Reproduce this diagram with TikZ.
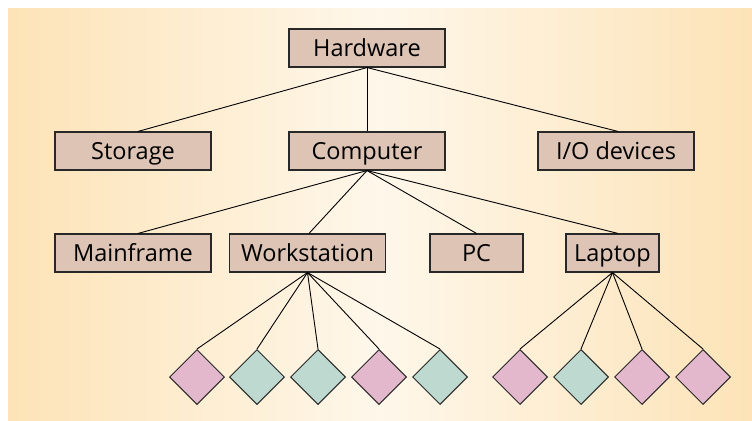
\documentclass[tikz,border=0pt]{standalone}
\usepackage{fontspec}
\setmainfont{Open Sans}
\usetikzlibrary{shapes.geometric}
\definecolor{bgedge}{RGB}{253,227,183}
\definecolor{bgmid}{RGB}{254,247,234}
\definecolor{boxfill}{RGB}{221,196,180}
\definecolor{pinkd}{RGB}{228,184,204}
\definecolor{teald}{RGB}{190,218,208}
\definecolor{edgec}{RGB}{40,40,40}
\tikzset{
  box/.style={draw=edgec, line width=1.1bp, fill=boxfill, minimum height=38bp, inner sep=0pt, text height=16.5bp, text depth=0.5bp, font=\fontsize{23.5bp}{26bp}\selectfont},
  wbox/.style={box, minimum width=156bp},
  nbox/.style={box, minimum width=93bp},
  dia/.style={diamond, draw=edgec, line width=1bp, minimum width=55bp, minimum height=55bp, inner sep=0pt},
  pk/.style={dia, fill=pinkd},
  tl/.style={dia, fill=teald},
  link/.style={draw=black, line width=0.9bp}
}
\begin{document}
\begin{tikzpicture}[x=1bp,y=1bp]
\useasboundingbox (0,0) rectangle (752,420);
\shade[left color=bgedge, right color=bgedge, middle color=bgmid] (8,0) rectangle (752,411);
% level 0
\node[wbox] (hw) at (367,372) {Hardware};
% level 1
\node[wbox] (st) at (133,269) {Storage};
\node[wbox] (cp) at (367,269) {Computer};
\node[wbox] (io) at (616,269) {I/O devices};
% level 2
\node[wbox] (mf) at (133,167) {Mainframe};
\node[wbox] (ws) at (307.5,167) {Workstation};
\node[nbox] (pc) at (476.5,167) {PC};
\node[nbox] (lp) at (612.5,167) {Laptop};
% diamonds
\node[pk] (d1) at (197,43) {};
\node[tl] (d2) at (257,43) {};
\node[tl] (d3) at (318,43) {};
\node[pk] (d4) at (379,43) {};
\node[tl] (d5) at (440,43) {};
\node[pk] (d6) at (520,43) {};
\node[tl] (d7) at (581,43) {};
\node[pk] (d8) at (642,43) {};
\node[pk] (d9) at (703,43) {};
% connectors
\draw[link] (hw.south) -- ([xshift=5bp]st.north);
\draw[link] (hw.south) -- (cp.north);
\draw[link] (hw.south) -- ([xshift=2bp]io.north);
\draw[link] (cp.south) -- ([xshift=5bp]mf.north);
\draw[link] (cp.south) -- ([xshift=1.5bp]ws.north);
\draw[link] (cp.south) -- (pc.north);
\draw[link] (cp.south) -- ([xshift=5.5bp]lp.north);
\foreach \d in {d1,d2,d3,d4,d5}{\draw[link] (ws.south) -- (\d.north);}
\foreach \d in {d6,d7,d8,d9}{\draw[link] (lp.south) -- (\d.north);}
\end{tikzpicture}
\end{document}
